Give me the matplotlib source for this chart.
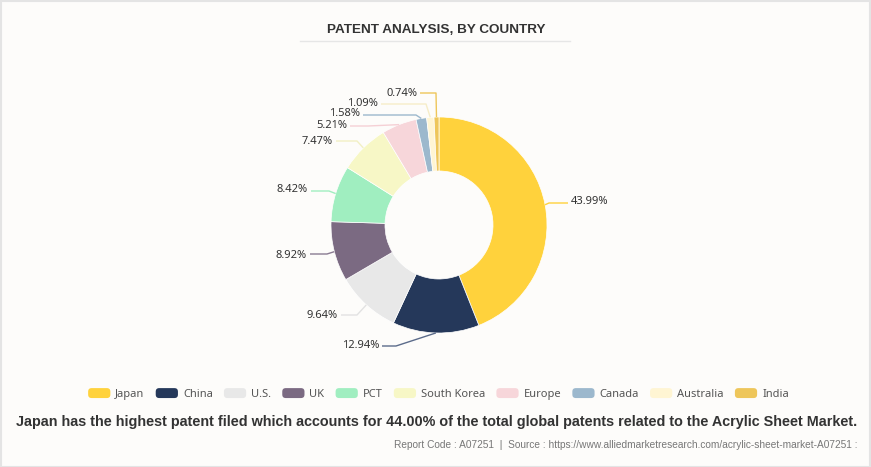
import numpy as np
import matplotlib
matplotlib.use("Agg")
import matplotlib.pyplot as plt
from matplotlib.patches import Rectangle, FancyBboxPatch
from matplotlib.legend_handler import HandlerPatch

# ---------------- data ----------------
countries = ["Japan", "China", "U.S.", "UK", "PCT", "South Korea",
             "Europe", "Canada", "Australia", "India"]
shares = [43.99, 12.94, 9.64, 8.92, 8.42, 7.47, 5.21, 1.58, 1.09, 0.74]
colors = ["#FFD23C", "#25385A", "#E8E8E8", "#7B6A82", "#A0EEC0",
          "#F7F7C6", "#F7D6DA", "#9CB8CD", "#FFF5D3", "#EEC65A"]

title = "PATENT ANALYSIS, BY COUNTRY"
subtitle = ("Japan has the highest patent filed which accounts for 44.00% of the "
            "total global patents related to the Acrylic Sheet Market.")
source = ("Report Code : A07251  |  Source : "
          "https://www.alliedmarketresearch.com/acrylic-sheet-market-A07251 :")

# ---------------- layout (pixel space, y down) ----------------
W, H = 871, 467
cx, cy, R, ring = 439, 225, 108, 54
label_pos = [(571, 202, "left"), (379, 346, "right"), (338, 315, "right"),
             (307, 255, "right"), (308, 190, "right"), (333, 141, "right"),
             (347, 126, "right"), (360, 114, "right"), (378, 103, "right"),
             (417, 93, "right")]
elbows = [(549, 203), (396, 346), (357, 315), (327, 254), (329, 191),
          (357, 141), (368, 126), (416, 115), (426, 104), (436, 93)]
line_colors = ["#FFD23C", "#5B6B8A", "#E2E2E2", "#8A7B92", "#A0EEC0",
               "#F2F0C4", "#F5D0D5", "#9CB8CD", "#F6EDC8", "#EEC65A"]

fig = plt.figure(figsize=(W / 100, H / 100), dpi=100)
fig.patch.set_facecolor("#FDFCFA")
ax = fig.add_axes([0, 0, 1, 1])
ax.set_xlim(0, W)
ax.set_ylim(0, H)
ax.set_aspect("equal")
ax.axis("off")

def Y(y):
    return H - y

wedges, _ = ax.pie(shares, colors=colors, startangle=90, counterclock=False,
                   radius=R, center=(cx, Y(cy)),
                   wedgeprops=dict(width=ring, edgecolor="white", linewidth=0.5))
ax.set_xlim(0, W)
ax.set_ylim(0, H)

for w, val, lc, (tx, ty, ha), (ex, ey) in zip(wedges, shares, line_colors,
                                              label_pos, elbows):
    ang = np.deg2rad((w.theta1 + w.theta2) / 2)
    px = cx + R * np.cos(ang)
    py = Y(cy) + R * np.sin(ang)
    hx = tx + 3 if ha == "right" else tx - 3
    ax.plot([px, ex, hx], [py, Y(ey), Y(ey)], color=lc, lw=1.0,
            solid_capstyle="butt")
    ax.text(tx, Y(ty), f"{val:.2f}%", ha=ha, va="center", fontsize=8,
            color="#333333", family="Noto Sans")

# title + underline
ax.text(436, Y(30), title, ha="center", va="center", fontsize=9.7,
        fontweight="bold", color="#333333", family="Liberation Sans")
ax.plot([300, 570], [Y(41), Y(41)], color="#E6E6E6", lw=1)


class RoundedHandler(HandlerPatch):
    def create_artists(self, legend, orig_handle, xdescent, ydescent,
                       width, height, fontsize, trans):
        p = FancyBboxPatch((-xdescent + 1, -ydescent + 1), width - 2, height - 2,
                           boxstyle="round,pad=1,rounding_size=2.5",
                           facecolor=orig_handle.get_facecolor(),
                           edgecolor="none", transform=trans)
        return [p]


handles = [Rectangle((0, 0), 1, 1, facecolor=c, edgecolor="none") for c in colors]
leg = ax.legend(handles, countries, ncol=len(countries), loc="center",
                bbox_to_anchor=(438.5 / W, 1 - 394 / H), frameon=False,
                handlelength=2.0, handleheight=1.0, handletextpad=0.45,
                columnspacing=1.0, borderaxespad=0,
                handler_map={Rectangle: RoundedHandler()},
                prop=dict(family="Noto Sans", size=8))
for t in leg.get_texts():
    t.set_color("#555555")

# subtitle + source
ax.text(436.5, Y(422), subtitle, ha="center", va="center", fontsize=10.4,
        fontweight="bold", color="#333333", family="Liberation Sans")
ax.text(858, Y(445), source, ha="right", va="center", fontsize=7.25,
        color="#777777", family="Liberation Sans")

# outer border
ax.add_patch(Rectangle((0.5, 0.5), W - 1.5, H - 1, fill=False,
                       edgecolor="#E4E4E4", lw=1.5))

fig.savefig("out.png", dpi=100, facecolor=fig.get_facecolor())
